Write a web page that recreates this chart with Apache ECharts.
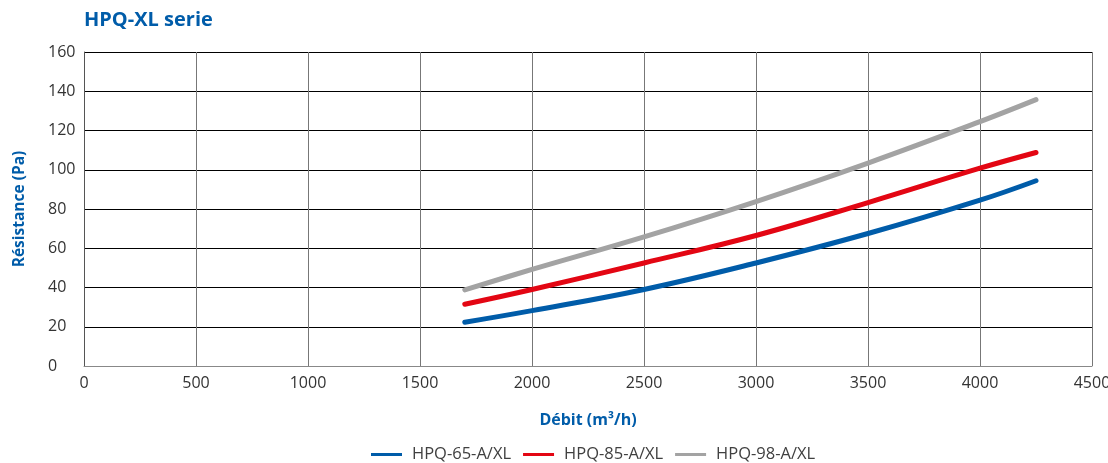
<!DOCTYPE html>
<html>
<head>
<meta charset="utf-8">
<script src="https://cdn.jsdelivr.net/npm/echarts@6/dist/echarts.min.js"></script>
<style>
  html, body { margin: 0; padding: 0; background: #fff; }
  #chart { width: 1108px; height: 463px; }
</style>
</head>
<body>
<div id="chart"></div>
<script>
// Airflow (m³/h) vs pressure drop (Pa) for the HPQ-XL range
const debit = [1700, 2000, 2500, 3000, 3500, 4000, 4250];
const hpq65 = [22.3, 28.2, 39.0, 52.5, 67.5, 84.5, 94.4];
const hpq85 = [31.5, 39.0, 52.5, 66.5, 83.3, 100.8, 108.8];
const hpq98 = [38.8, 49.2, 65.8, 83.8, 103.4, 124.5, 135.7];
const seriesNames = ['HPQ-65-A/XL', 'HPQ-85-A/XL', 'HPQ-98-A/XL'];
const colors = ['#005CA9', '#E30613', '#A3A3A3'];

const font = 'Open Sans, Noto Sans, sans-serif';
const pair = (ys) => debit.map((x, i) => [x, ys[i]]);

const chart = echarts.init(document.getElementById('chart'));
chart.setOption({
  animation: false,
  title: {
    text: 'HPQ-XL serie',
    left: 79, top: 5,
    textStyle: { color: '#005CA9', fontFamily: font, fontWeight: 'bold', fontSize: 20 }
  },
  legend: {
    top: 441, left: 366,
    itemWidth: 31, itemHeight: 3, itemGap: 12,
    icon: 'rect',
    textStyle: { color: '#404040', fontFamily: font, fontSize: 16.5, padding: [0, 0, 0, 5] },
    data: seriesNames
  },
  grid: { left: 84, right: 16, top: 52, bottom: 97, outerBoundsMode: 'none' },
  xAxis: {
    type: 'value', min: 0, max: 4500, interval: 500,
    name: 'Débit (m³/h)', nameLocation: 'middle', nameGap: 46,
    nameTextStyle: { color: '#005CA9', fontFamily: font, fontWeight: 'bold', fontSize: 16 },
    axisLine: { show: true, lineStyle: { color: '#888', width: 1 } },
    axisTick: { show: false },
    axisLabel: { color: '#333', fontFamily: font, fontSize: 16, margin: 9, formatter: (v) => String(v) },
    splitLine: { show: true, lineStyle: { color: '#777', width: 1 } }
  },
  yAxis: {
    type: 'value', min: 0, max: 160, interval: 20,
    name: 'Résistance (Pa)', nameLocation: 'middle', nameGap: 56,
    nameTextStyle: { color: '#005CA9', fontFamily: font, fontWeight: 'bold', fontSize: 15.5 },
    axisLine: { show: true, lineStyle: { color: '#555', width: 1 } },
    axisTick: { show: false },
    axisLabel: { color: '#333', fontFamily: font, fontSize: 16, margin: 36, align: 'left', formatter: (v) => String(v) },
    splitLine: { show: true, lineStyle: { color: '#000', width: 1 } }
  },
  series: [hpq65, hpq85, hpq98].map((ys, i) => ({
    name: seriesNames[i],
    type: 'line',
    smooth: 0.4,
    symbol: 'none',
    data: pair(ys),
    lineStyle: { color: colors[i], width: 5, cap: 'round' },
    itemStyle: { color: colors[i] }
  }))
});
</script>
</body>
</html>
